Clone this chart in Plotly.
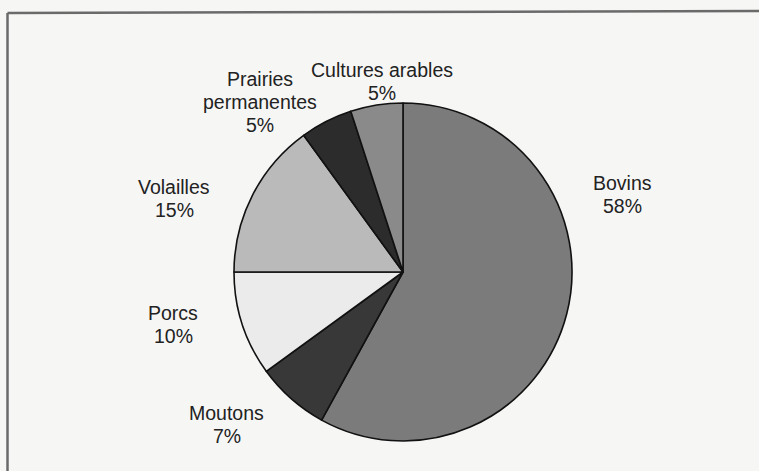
import plotly.graph_objects as go

labels = ["Bovins", "Moutons", "Porcs", "Volailles", "Prairies<br>permanentes", "Cultures arables"]
values = [58, 7, 10, 15, 5, 5]
colors = ["#7b7b7b", "#383838", "#ebebeb", "#bababa", "#2c2c2c", "#8a8a8a"]

# first-line anchor positions (pixels from top-left) for the outside captions
label_pos = [(622, 182), (227, 412), (173, 312), (174, 186), (260, 78), (382, 69)]
LINE_STEP = 23

W, H = 759, 471
cx, cy, r = 403, 272, 169

fig = go.Figure()
fig.add_trace(go.Pie(
    labels=labels, values=values, sort=False, direction="clockwise", rotation=0,
    marker=dict(colors=colors, line=dict(color="#111111", width=1.6)),
    textinfo="none", hoverinfo="label+percent", showlegend=False,
    domain=dict(x=[(cx - r) / W, (cx + r) / W], y=[(H - cy - r) / H, (H - cy + r) / H]),
))

total = sum(values)
for lab, v, (px, py) in zip(labels, values, label_pos):
    lines = lab.split("<br>") + [f"{round(100 * v / total)}%"]
    for i, line in enumerate(lines):
        fig.add_annotation(
            x=px / W, y=1 - (py + 1 + i * LINE_STEP) / H, xref="paper", yref="paper",
            text=line, showarrow=False,
            font=dict(family="Liberation Sans, Arial", size=19.5, color="#222222"),
            align="center", xanchor="center", yanchor="middle",
        )

fig.add_shape(type="line", xref="paper", yref="paper", x0=7.5 / W, x1=1, y0=1 - 13 / H, y1=1 - 11 / H,
              line=dict(color="#6a6a6a", width=2.5))
fig.add_shape(type="line", xref="paper", yref="paper", x0=7.5 / W, x1=7.5 / W, y0=0, y1=1 - 13 / H,
              line=dict(color="#6a6a6a", width=2.5))

fig.update_layout(
    width=W, height=H, margin=dict(l=0, r=0, t=0, b=0),
    paper_bgcolor="#f6f6f5", plot_bgcolor="#f6f6f5",
)
fig.write_html("out.html", config={"displayModeBar": False},
               post_script="document.body.style.margin='0px';")
